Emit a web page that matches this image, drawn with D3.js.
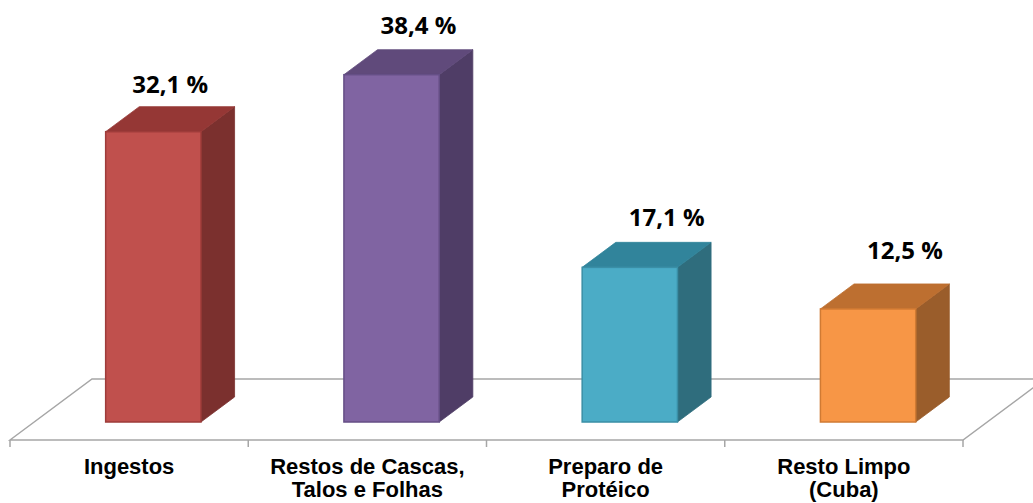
<!DOCTYPE html>
<html><head><meta charset="utf-8">
<script src="https://cdn.jsdelivr.net/npm/d3@7"></script>
<style>html,body{margin:0;padding:0;background:#fff;overflow:hidden}</style>
</head><body>
<svg id="chart" width="1033" height="503"></svg>
<script>
const categories = ["Ingestos", "Restos de Cascas,\nTalos e Folhas", "Preparo de\nProtéico", "Resto Limpo\n(Cuba)"];
const values = [32.1, 38.4, 17.1, 12.5];
const valueLabels = ["32,1 %", "38,4 %", "17,1 %", "12,5 %"];
const frontColors = ["#C0504D", "#8064A2", "#4BACC6", "#F79646"];
const topColors = ["#953735", "#604A7B", "#31849B", "#BD6F30"];
const sideColors = ["#7B302E", "#4F3D66", "#2F6D7D", "#9A5D2B"];
const edgeColors = ["#9E3C3A", "#654F86", "#3A8FA6", "#D07A33"];

const svg = d3.select("#chart");
const frontY = 440, floorL = 10, floorR = 963;
const depth = {dx: 82, dy: -61};
const fFront = 0.295, fBack = 0.705;

const x = d3.scaleBand().domain(categories).range([floorL, floorR]).paddingInner(0.6).paddingOuter(0.3);
const h = d3.scaleLinear().domain([0, 45]).range([0, 407]);
const step = x.step();

const grid = "#A6A6A6";
// floor
const floor = svg.append("g");
floor.append("path").attr("fill", "none").attr("stroke", grid).attr("stroke-width", 1.5)
  .attr("d", `M${floorL},${frontY}L${floorL + depth.dx},${frontY + depth.dy}L${floorR + depth.dx},${frontY + depth.dy}L${floorR},${frontY}Z`);
// ticks
d3.range(categories.length + 1).forEach(i => {
  const tx = floorL + i * step;
  floor.append("line").attr("x1", tx).attr("x2", tx).attr("y1", frontY).attr("y2", frontY + 7)
    .attr("stroke", grid).attr("stroke-width", 1.5);
});

const ox = depth.dx * fFront, oy = depth.dy * fFront;
const bdx = depth.dx * (fBack - fFront), bdy = depth.dy * (fBack - fFront);
const base = frontY + oy;

const bars = svg.append("g");
categories.forEach((c, i) => {
  const x0 = x(c) + ox, x1 = x0 + x.bandwidth();
  const top = base - h(values[i]);
  const g = bars.append("g");
  g.append("path").attr("fill", sideColors[i]).attr("stroke", sideColors[i]).attr("stroke-width", 0.8)
    .attr("d", `M${x1},${top}L${x1 + bdx},${top + bdy}L${x1 + bdx},${base + bdy}L${x1},${base}Z`);
  g.append("path").attr("fill", topColors[i]).attr("stroke", topColors[i]).attr("stroke-width", 0.8)
    .attr("d", `M${x0},${top}L${x1},${top}L${x1 + bdx},${top + bdy}L${x0 + bdx},${top + bdy}Z`);
  g.append("rect").attr("x", x0).attr("y", top).attr("width", x1 - x0).attr("height", base - top)
    .attr("fill", frontColors[i]).attr("stroke", edgeColors[i]).attr("stroke-width", 1.5);
});

// value labels (Excel-like placement nudges)
const labelNudgeX = [0, 10, 20, 20];
const labelNudgeY = [14, 16, 16, 25];
svg.append("g").selectAll("text").data(categories).join("text")
  .attr("x", (c, i) => x(c) + ox + x.bandwidth() / 2 + bdx / 2 + labelNudgeX[i])
  .attr("y", (c, i) => base - h(values[i]) + bdy - labelNudgeY[i])
  .attr("text-anchor", "middle")
  .attr("font-family", "'Open Sans', sans-serif").attr("font-weight", "bold").attr("font-size", 24)
  .attr("fill", "#000")
  .text((c, i) => valueLabels[i]);

// category labels
const cat = svg.append("g");
categories.forEach(c => {
  const lines = c.split("\n");
  const t = cat.append("text").attr("text-anchor", "middle")
    .attr("font-family", "'Liberation Sans', Arial, sans-serif").attr("font-weight", "bold")
    .attr("font-size", 22).attr("fill", "#000");
  lines.forEach((l, j) => {
    t.append("tspan").attr("x", x(c) + x.bandwidth() / 2).attr("y", 473.5 + j * 23.5).text(l);
  });
});
</script>
</body></html>
